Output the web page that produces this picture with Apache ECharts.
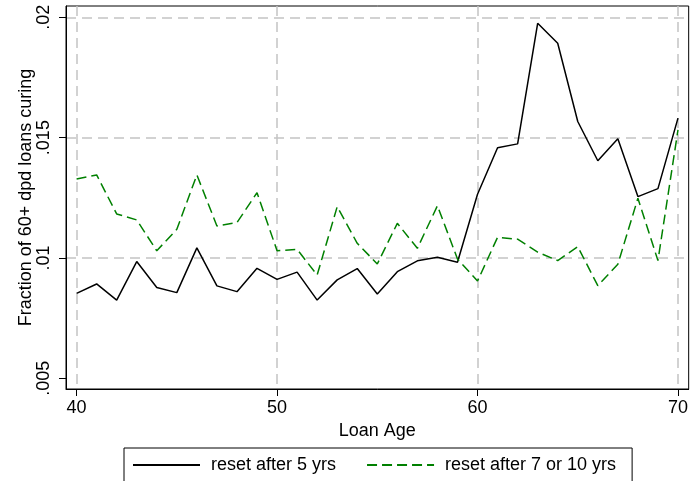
<!DOCTYPE html>
<html><head><meta charset="utf-8">
<script src="https://cdn.jsdelivr.net/npm/echarts@6/dist/echarts.min.js"></script>
<style>html,body{margin:0;padding:0;background:#fff}#c{width:691px;height:481px}</style>
</head><body><div id="c"></div>
<script>
const loanAge = [40,41,42,43,44,45,46,47,48,49,50,51,52,53,54,55,56,57,58,59,60,61,62,63,64,65,66,67,68,69,70];
const reset5 = [0.00853,0.00892,0.00825,0.00985,0.00877,0.00856,0.01042,0.00884,0.0086,0.00957,0.00911,0.00941,0.00825,0.00909,0.00956,0.0085,0.00943,0.00988,0.01003,0.00982,0.01265,0.01458,0.01474,0.01975,0.01892,0.01567,0.01404,0.01495,0.01255,0.01288,0.01581];
const reset710 = [0.01328,0.01345,0.01183,0.01158,0.0103,0.01119,0.01345,0.01133,0.01147,0.01271,0.0103,0.01036,0.00929,0.01213,0.01061,0.00975,0.01144,0.0104,0.01217,0.00996,0.00904,0.01086,0.01078,0.01024,0.00989,0.01047,0.00885,0.00974,0.01248,0.00989,0.01532];
const xTicks = [40,50,60,70];
const yTicks = [0.005,0.01,0.015,0.02];
const yGridValues = [0.01,0.015,0.02];
const seriesNames = ['reset after 5 yrs','reset after 7 or 10 yrs'];

const FONT = 'Liberation Sans, Arial, sans-serif';
const FS = 18;
const X_MIN = 39.472, X_MAX = 70.533;
const Y_MIN = 0.004555, Y_MAX = 0.020469;
const gridLine = {show:true, lineStyle:{type:[10,6], color:'#c4c4c4', width:1.5}};

const chart = echarts.init(document.getElementById('c'), null, {renderer:'canvas'});
chart.setOption({
  animation:false,
  backgroundColor:'#fff',
  textStyle:{fontFamily:FONT, color:'#000'},
  grid:{left:66, right:2, top:6, bottom:92, show:true, borderColor:'#000', borderWidth:1, backgroundColor:'transparent'},
  xAxis:{
    type:'value', min:X_MIN, max:X_MAX,
    name:'Loan Age', nameLocation:'middle', nameGap:33, nameMoveOverlap:false,
    nameTextStyle:{fontSize:FS, color:'#000', fontFamily:FONT},
    axisLine:{show:true, lineStyle:{color:'#000', width:1}},
    axisTick:{show:true, length:7, lineStyle:{color:'#000', width:1}, customValues:xTicks},
    axisLabel:{customValues:xTicks, margin:10, fontSize:FS, color:'#000', fontFamily:FONT},
    splitLine:gridLine
  },
  yAxis:[{
    type:'value', min:Y_MIN, max:Y_MAX, position:'left',
    name:'Fraction of 60+ dpd loans curing', nameLocation:'middle', nameGap:31, nameRotate:90, nameMoveOverlap:false,
    nameTextStyle:{fontSize:FS, color:'#000', fontFamily:FONT},
    axisLine:{show:true, lineStyle:{color:'#000', width:1}},
    axisTick:{show:true, length:7, lineStyle:{color:'#000', width:1}, customValues:yTicks},
    axisLabel:{customValues:yTicks, rotate:90, margin:13, fontSize:FS, color:'#000', fontFamily:FONT,
      formatter:v => String(+v.toFixed(4)).replace(/^0/, '')},
    splitLine:{show:false}
  },{
    type:'value', min:Y_MIN, max:Y_MAX, position:'left',
    axisLine:{show:false},
    axisTick:{show:false, customValues:yGridValues},
    axisLabel:{show:false, customValues:yGridValues},
    splitLine:gridLine
  }],
  legend:{
    left:124, top:448, orient:'horizontal',
    itemWidth:67, itemHeight:18, itemGap:30,
    padding:[8,16,20,8],
    borderColor:'#000', borderWidth:1,
    itemStyle:{opacity:0},
    textStyle:{fontSize:FS, color:'#000', fontFamily:FONT, padding:[0,0,0,6]},
    data:seriesNames
  },
  series:[{
    name:seriesNames[0], type:'line', yAxisIndex:0, symbol:'none',
    lineStyle:{color:'#000', width:1.5}, itemStyle:{color:'#000'},
    data:loanAge.map((a,i)=>[a, reset5[i]])
  },{
    name:seriesNames[1], type:'line', yAxisIndex:0, symbol:'none',
    lineStyle:{color:'#008000', width:1.5, type:[10,5]}, itemStyle:{color:'#008000'},
    data:loanAge.map((a,i)=>[a, reset710[i]])
  }]
});
</script>
</body></html>
